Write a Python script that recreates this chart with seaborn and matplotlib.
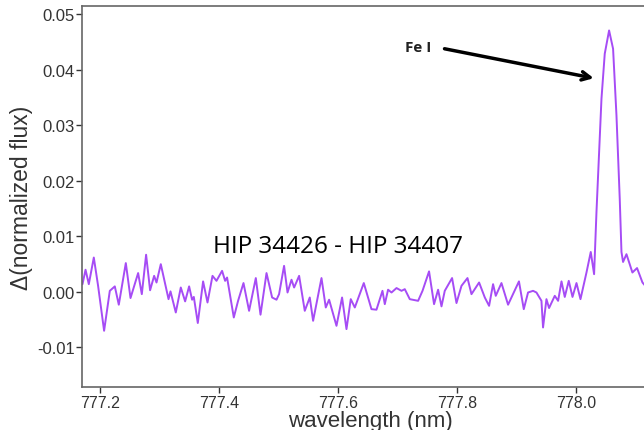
import numpy as np
import seaborn as sns
import matplotlib.pyplot as plt

sns.set_style("ticks")
plt.rcParams['font.family'] = ['Liberation Sans', 'DejaVu Sans']
plt.rcParams['axes.unicode_minus'] = False

# traced spectrum difference (wavelength in nm, delta normalized flux)
wavelength = [777.1709, 777.1760, 777.1815, 777.1899, 777.1971, 777.2072, 777.2168, 777.2252,
              777.2319, 777.2437, 777.2516, 777.2644, 777.2706, 777.2778, 777.2845, 777.2913,
              777.2953, 777.3025, 777.3155, 777.3188, 777.3277, 777.3361, 777.3434, 777.3501,
              777.3551, 777.3580, 777.3647, 777.3736, 777.3810, 777.3894, 777.3961, 777.4055,
              777.4106, 777.4139, 777.4252, 777.4324, 777.4415, 777.4509, 777.4622, 777.4701,
              777.4802, 777.4896, 777.4970, 777.5013, 777.5097, 777.5155, 777.5222, 777.5266,
              777.5350, 777.5445, 777.5529, 777.5585, 777.5726, 777.5798, 777.5854, 777.5978,
              777.6072, 777.6146, 777.6218, 777.6286, 777.6437, 777.6566, 777.6650, 777.6751,
              777.6790, 777.6845, 777.6903, 777.6987, 777.7071, 777.7126, 777.7210, 777.7350,
              777.7424, 777.7534, 777.7618, 777.7686, 777.7743, 777.7798, 777.7921, 777.7995,
              777.8079, 777.8180, 777.8247, 777.8375, 777.8471, 777.8543, 777.8610, 777.8655,
              777.8751, 777.8862, 777.9045, 777.9126, 777.9198, 777.9282, 777.9339, 777.9423,
              777.9450, 777.9507, 777.9551, 777.9647, 777.9703, 777.9760, 777.9815, 777.9882,
              777.9945, 778.0012, 778.0079, 778.0180, 778.0252, 778.0308, 778.0348, 778.0432,
              778.0487, 778.0560, 778.0627, 778.0684, 778.0739, 778.0768, 778.0795, 778.0852,
              778.0952, 778.1030, 778.1121, 778.1160]
delta_flux = [0.0014, 0.0040, 0.0014, 0.0062, 0.0011, -0.0070, 0.0002, 0.0010,
              -0.0023, 0.0052, -0.0011, 0.0034, -0.0004, 0.0067, 0.0003, 0.0029,
              0.0017, 0.0050, -0.0013, 0.0001, -0.0037, 0.0008, -0.0017, 0.0010,
              -0.0014, -0.0009, -0.0056, 0.0019, -0.0019, 0.0029, 0.0020, 0.0038,
              0.0020, 0.0026, -0.0046, -0.0016, 0.0016, -0.0034, 0.0025, -0.0041,
              0.0034, -0.0010, -0.0014, -0.0004, 0.0047, -0.0001, 0.0022, 0.0008,
              0.0029, -0.0034, -0.0010, -0.0052, 0.0025, -0.0028, -0.0014, -0.0061,
              -0.0010, -0.0067, -0.0013, -0.0028, 0.0016, -0.0031, -0.0032, 0.0002,
              -0.0022, 0.0004, -0.0001, 0.0007, 0.0002, 0.0005, -0.0013, -0.0016,
              0.0002, 0.0037, -0.0022, 0.0004, -0.0026, 0.0002, 0.0025, -0.0020,
              0.0011, 0.0025, -0.0004, 0.0017, -0.0010, -0.0025, 0.0014, -0.0007,
              0.0016, -0.0023, 0.0019, -0.0031, -0.0001, 0.0002, -0.0001, -0.0016,
              -0.0064, -0.0013, -0.0029, -0.0007, -0.0016, 0.0019, -0.0009, 0.0020,
              -0.0009, 0.0016, -0.0013, 0.0035, 0.0072, 0.0032, 0.0144, 0.0348,
              0.0429, 0.0471, 0.0438, 0.0318, 0.0168, 0.0072, 0.0054, 0.0068,
              0.0035, 0.0043, 0.0017, 0.0012]

y_ticks = [-0.01, 0.00, 0.01, 0.02, 0.03, 0.04, 0.05]
x_ticks = [777.2, 777.4, 777.6, 777.8, 778.0]

fig = plt.figure(figsize=(6.44, 4.31), dpi=100)
ax = fig.add_axes([0.127, 0.0998, 0.8975, 0.8843])

sns.lineplot(x=wavelength, y=delta_flux, sort=False, estimator=None,
             color="#a64cf5", linewidth=1.4, ax=ax)

ax.set_xlim(777.1697, 778.1412)
ax.set_ylim(-0.01712, 0.05153)
ax.set_xticks(x_ticks)
ax.set_yticks(y_ticks)
ax.set_xticklabels(["%.1f" % t for t in x_ticks])
ax.set_yticklabels(["%.2f" % t for t in y_ticks])
ax.tick_params(axis='x', labelsize=11.5, colors="#333333", length=4, width=1, pad=2)
ax.tick_params(axis='y', labelsize=12, colors="#333333", length=4, width=1, pad=1)
for s in ax.spines.values():
    s.set_color("#666666")
    s.set_linewidth(1.2)

ax.set_xlabel("wavelength (nm)", fontsize=16, color="#333333", labelpad=0)
ax.set_ylabel("Δ(normalized flux)", fontsize=16.5, color="#333333", labelpad=3)

ax.text(777.39, 0.0083, "HIP 34426 - HIP 34407", fontsize=17.5, family="Open Sans",
        color="black", va="center", ha="left")
ax.text(777.7126, 0.0441, "Fe I", fontsize=11, fontweight="bold", family="Open Sans",
        color="#222222", va="center", ha="left")
ax.annotate("", xy=(778.0348, 0.0384), xytext=(777.7748, 0.0439),
            arrowprops=dict(arrowstyle="->,head_length=0.6,head_width=0.3",
                            color="black", lw=2.5))

fig.savefig("out.png", dpi=100)
